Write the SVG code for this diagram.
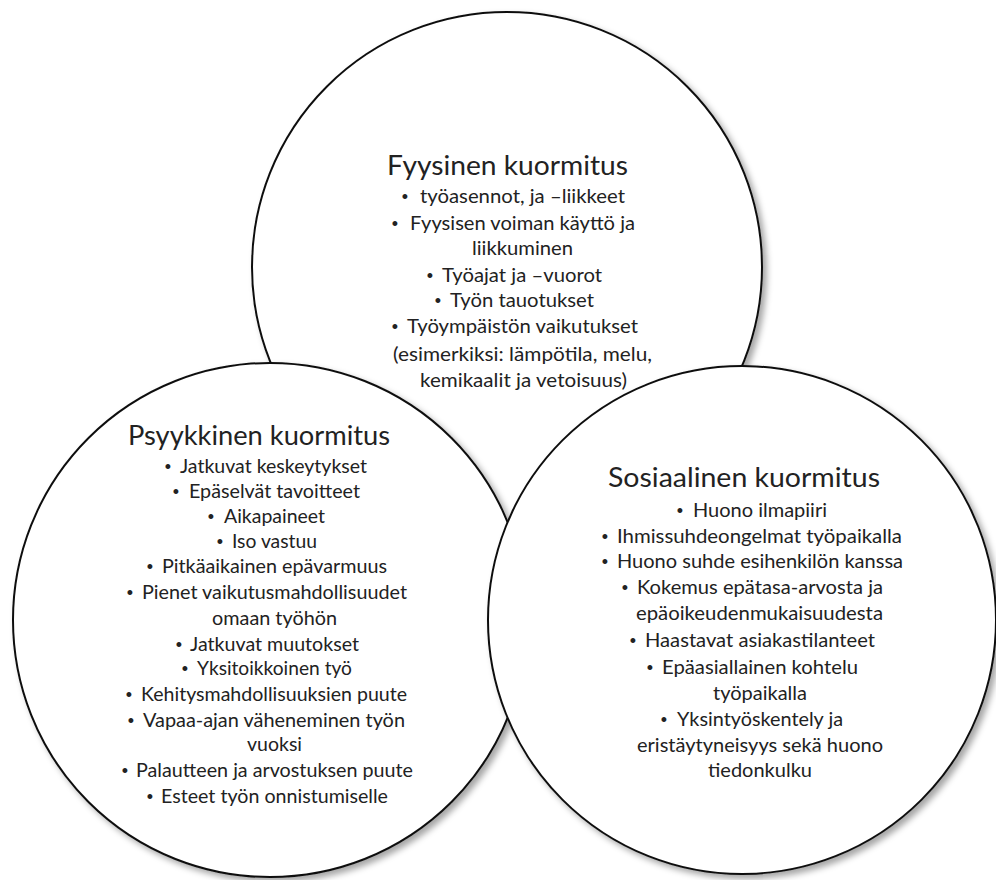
<svg xmlns="http://www.w3.org/2000/svg" width="996" height="880" viewBox="0 0 996 880">
<defs>
<filter id="sh" x="-10%" y="-10%" width="125%" height="125%">
<feDropShadow dx="4" dy="4" stdDeviation="3" flood-color="#000" flood-opacity="0.35"/>
</filter>
</defs>
<style>
.c{fill:#fff;stroke:#111;stroke-width:2;filter:url(#sh)}
.t{font-family:Lato,"Open Sans","Liberation Sans",sans-serif;font-size:26px;fill:#222}
.b{font-family:Lato,"Open Sans","Liberation Sans",sans-serif;font-size:19px;fill:#222}
.d{font-family:"Liberation Sans",sans-serif;font-size:18px;fill:#222;text-anchor:middle}
</style>
<rect width="996" height="880" fill="#fff"/>
<g id="fyysinen-circle"><circle class="c" cx="507" cy="267" r="255"/></g>
<g id="psyykkinen-circle"><circle class="c" cx="270" cy="620" r="257"/></g>
<g id="sosiaalinen-circle"><circle class="c" cx="742" cy="620" r="254"/></g>

<g id="fyysinen">
<text class="t" x="387" y="175" textLength="241" lengthAdjust="spacingAndGlyphs">Fyysinen kuormitus</text>
<text class="d" x="405" y="203">•</text><text class="b" x="420" y="203" textLength="205" lengthAdjust="spacingAndGlyphs">työasennot, ja –liikkeet</text>
<text class="d" x="395" y="230">•</text><text class="b" x="410" y="230" textLength="225" lengthAdjust="spacingAndGlyphs">Fyysisen voiman käyttö ja</text>
<text class="b" x="472" y="255" textLength="101" lengthAdjust="spacingAndGlyphs">liikkuminen</text>
<text class="d" x="430" y="282">•</text><text class="b" x="442" y="282" textLength="160" lengthAdjust="spacingAndGlyphs">Työajat ja –vuorot</text>
<text class="d" x="438" y="307">•</text><text class="b" x="450" y="307" textLength="144" lengthAdjust="spacingAndGlyphs">Työn tauotukset</text>
<text class="d" x="395" y="333">•</text><text class="b" x="407" y="333" textLength="231" lengthAdjust="spacingAndGlyphs">Työympäistön vaikutukset</text>
<text class="b" x="393" y="361" textLength="259" lengthAdjust="spacingAndGlyphs">(esimerkiksi: lämpötila, melu,</text>
<text class="b" x="420" y="387" textLength="207" lengthAdjust="spacingAndGlyphs">kemikaalit ja vetoisuus)</text>
</g>

<g id="psyykkinen">
<text class="t" x="128" y="445" textLength="262" lengthAdjust="spacingAndGlyphs">Psyykkinen kuormitus</text>
<text class="d" x="168" y="473">•</text><text class="b" x="180" y="473" textLength="187" lengthAdjust="spacingAndGlyphs">Jatkuvat keskeytykset</text>
<text class="d" x="176" y="498">•</text><text class="b" x="189" y="498" textLength="171" lengthAdjust="spacingAndGlyphs">Epäselvät tavoitteet</text>
<text class="d" x="211" y="523">•</text><text class="b" x="224" y="523" textLength="101" lengthAdjust="spacingAndGlyphs">Aikapaineet</text>
<text class="d" x="220" y="548">•</text><text class="b" x="232" y="548" textLength="85" lengthAdjust="spacingAndGlyphs">Iso vastuu</text>
<text class="d" x="150" y="573">•</text><text class="b" x="162" y="573" textLength="225" lengthAdjust="spacingAndGlyphs">Pitkäaikainen epävarmuus</text>
<text class="d" x="130" y="599">•</text><text class="b" x="142" y="599" textLength="265" lengthAdjust="spacingAndGlyphs">Pienet vaikutusmahdollisuudet</text>
<text class="b" x="212" y="625" textLength="125" lengthAdjust="spacingAndGlyphs">omaan työhön</text>
<text class="d" x="179" y="651">•</text><text class="b" x="190" y="651" textLength="169" lengthAdjust="spacingAndGlyphs">Jatkuvat muutokset</text>
<text class="d" x="185" y="675">•</text><text class="b" x="197" y="675" textLength="155" lengthAdjust="spacingAndGlyphs">Yksitoikkoinen työ</text>
<text class="d" x="129" y="701">•</text><text class="b" x="141" y="701" textLength="266" lengthAdjust="spacingAndGlyphs">Kehitysmahdollisuuksien puute</text>
<text class="d" x="131" y="727">•</text><text class="b" x="143" y="727" textLength="262" lengthAdjust="spacingAndGlyphs">Vapaa-ajan väheneminen työn</text>
<text class="b" x="247" y="751" textLength="55" lengthAdjust="spacingAndGlyphs">vuoksi</text>
<text class="d" x="125" y="777">•</text><text class="b" x="136" y="777" textLength="277" lengthAdjust="spacingAndGlyphs">Palautteen ja arvostuksen puute</text>
<text class="d" x="150" y="803">•</text><text class="b" x="161" y="803" textLength="227" lengthAdjust="spacingAndGlyphs">Esteet työn onnistumiselle</text>
</g>

<g id="sosiaalinen">
<text class="t" x="608" y="487" textLength="272" lengthAdjust="spacingAndGlyphs">Sosiaalinen kuormitus</text>
<text class="d" x="680" y="517">•</text><text class="b" x="693" y="517" textLength="134" lengthAdjust="spacingAndGlyphs">Huono ilmapiiri</text>
<text class="d" x="605" y="543">•</text><text class="b" x="617" y="543" textLength="285" lengthAdjust="spacingAndGlyphs">Ihmissuhdeongelmat työpaikalla</text>
<text class="d" x="605" y="568">•</text><text class="b" x="617" y="568" textLength="286" lengthAdjust="spacingAndGlyphs">Huono suhde esihenkilön kanssa</text>
<text class="d" x="625" y="594">•</text><text class="b" x="637" y="594" textLength="246" lengthAdjust="spacingAndGlyphs">Kokemus epätasa-arvosta ja</text>
<text class="b" x="636" y="620" textLength="247" lengthAdjust="spacingAndGlyphs">epäoikeudenmukaisuudesta</text>
<text class="d" x="633" y="647">•</text><text class="b" x="645" y="647" textLength="230" lengthAdjust="spacingAndGlyphs">Haastavat asiakastilanteet</text>
<text class="d" x="650" y="674">•</text><text class="b" x="662" y="674" textLength="196" lengthAdjust="spacingAndGlyphs">Epäasiallainen kohtelu</text>
<text class="b" x="713" y="700" textLength="94" lengthAdjust="spacingAndGlyphs">työpaikalla</text>
<text class="d" x="664" y="726">•</text><text class="b" x="677" y="726" textLength="166" lengthAdjust="spacingAndGlyphs">Yksintyöskentely ja</text>
<text class="b" x="637" y="752" textLength="246" lengthAdjust="spacingAndGlyphs">eristäytyneisyys sekä huono</text>
<text class="b" x="708" y="777" textLength="104" lengthAdjust="spacingAndGlyphs">tiedonkulku</text>
</g>
</svg>
